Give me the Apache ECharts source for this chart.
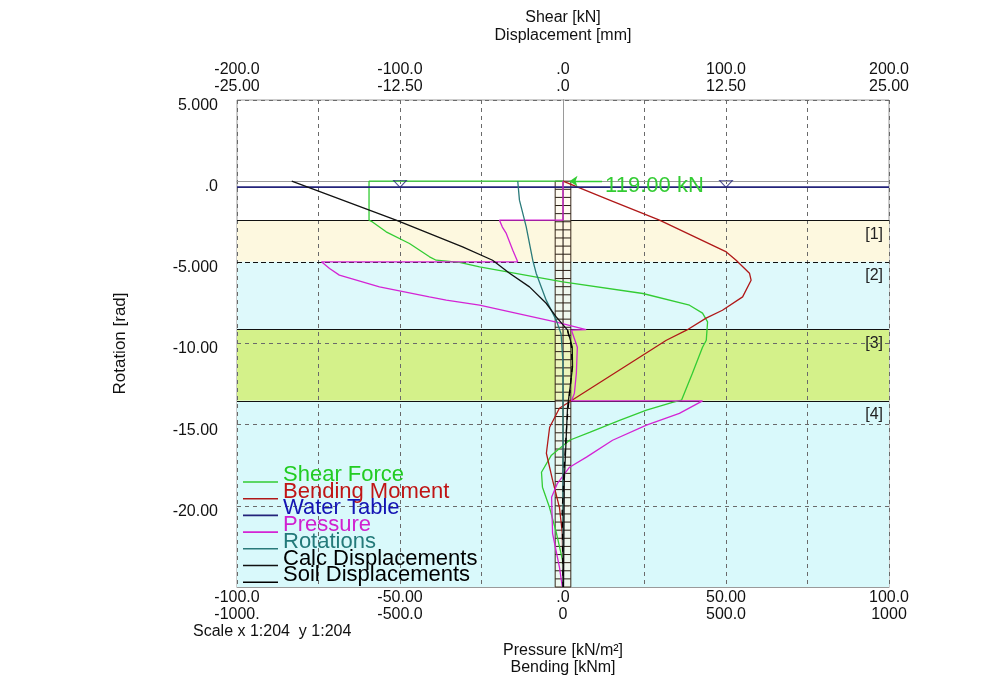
<!DOCTYPE html>
<html>
<head>
<meta charset="utf-8">
<script src="https://cdn.jsdelivr.net/npm/echarts@6/dist/echarts.min.js"></script>
<style>
html, body { margin: 0; padding: 0; background: #fff; }
#chart { width: 1000px; height: 685px; }
</style>
</head>
<body>
<div id="chart"></div>
<script>
// tick labels, as printed by the program
var shearTicks = ['-200.0', '-100.0', '.0', '100.0', '200.0'];
var dispTicks = ['-25.00', '-12.50', '.0', '12.50', '25.00'];
var pressTicks = ['-100.0', '-50.00', '.0', '50.00', '100.0'];
var bendTicks = ['-1000.', '-500.0', '0', '500.0', '1000'];
var levelTicks = ['5.000', '.0', '-5.000', '-10.00', '-15.00', '-20.00'];

// soil layers (level in m)
var layerNames = ['[1]', '[2]', '[3]', '[4]'];
var layerTop = [-2.4, -4.97, -9.14, -13.53];
var layerBottom = [-4.97, -9.14, -13.53, -25];
var layerColors = ['#fdf8df', '#def9fb', '#d4f18a', '#d9f9fb'];

// wall
var wallTop = 0;
var wallBottom = -25;
var wallHalf = 2.4;     // kN/m2 axis units
var wallStep = 0.5;

// water table
var waterLevel = -0.37;
var waterMarks = [-100, 100];

// shear force [kN]
var shearLevel = [0, 0, -2.4, -2.51, -3.12, -3.84, -4.66, -4.87, -4.97, -5.0, -5.28, -6.2, -6.92, -7.64, -8.13, -8.67, -9.8, -10.23, -11.83, -13.49, -13.62, -14.11, -14.73, -15.47, -15.96, -16.88, -17.93, -18.85, -20.09, -21.69, -23.35, -25];
var shearValue = [0, -119, -119, -116.9, -108.5, -94.2, -81.9, -77.8, -77.6, -63.5, -51.2, -0.1, 49, 77.6, 85.6, 88.7, 87.9, 85.6, 79.4, 72.7, 67.2, 51.2, 34.7, 16.3, 4, -7.1, -13.2, -12.6, -8.3, -4, -0.3, 0];
var anchorForce = 119;

// bending moment [kNm]
var bendLevel = [0, -1.17, -2.4, -4.36, -4.87, -5.67, -6.1, -7.13, -7.95, -8.44, -9.18, -9.8, -13.53, -13.99, -15.16, -16.76, -18.42, -20.09, -21.69, -25];
var bendValue = [0, 143, 296, 501, 531, 572, 577, 551, 489, 439, 379, 317, 25, -11, -41, -51, -32, -11, -2, 0];

// pressure [kN/m2]
var pressLevel = [0, -2.4, -2.4, -2.83, -3.22, -4.25, -4.97, -4.97, -5.38, -5.79, -6.51, -7.13, -7.33, -7.64, -8.69, -9.14, -9.18, -10.23, -11.83, -13.06, -13.53, -13.53, -14.3, -15.03, -15.96, -17.0, -17.62, -18.61, -19.47, -21.69, -23.78, -25];
var pressValue = [0, 0, -19.5, -18.6, -17.4, -15.4, -13.9, -74.1, -71.6, -68.6, -56.3, -41, -35.8, -25.6, -2, 7.1, 2.6, 4.4, 4.1, 3.5, 2.6, 42.8, 35.7, 25.6, 15.2, 7.2, 2.0, -1.7, -3.5, -3.2, -1.1, -0.2];

// rotations (drawn on the displacement scale)
var rotLevel = [0, -1.17, -2.82, -4.87, -5.67, -7.33, -8.56, -9.4, -11.2, -25];
var rotValue = [-3.47, -3.34, -2.82, -2.32, -2.06, -1.29, -0.52, -0.15, 0, 0];

// displacements [mm]
var calcLevel = [0, -2.4, -4.05, -4.87, -5.67, -6.51, -7.52, -8.36, -9.18, -10.21, -11.44, -12.67, -13.91, -15.34, -18.42, -25];
var calcValue = [-20.8, -12.8, -7.7, -5.4, -4.1, -2.57, -1.29, -0.52, 0.35, 0.71, 0.73, 0.55, 0.35, 0.27, 0.1, 0.04];
var soilLevel = [-9.2, -10.2, -11.5, -12.7, -14.8, -17.5, -20.3, -25];
var soilValue = [0.35, 0.65, 0.7, 0.55, 0.3, 0.1, -0.06, 0];

function pairs(xs, ys) {
    return xs.map(function (x, i) { return [x, ys[i]]; });
}
function tickFmt(list, min, step) {
    return function (v) {
        var r = (v - min) / step;
        var i = Math.round(r);
        if (Math.abs(r - i) > 1e-6) return '';
        return list[i] !== undefined ? list[i] : '';
    };
}

var FONT = 'Liberation Sans';
var TXT = '#111';
var gridDash = { type: [4, 4], color: '#6a6a6a', width: 1 };
// legend line sample sitting a little below its text
var legendIcon = 'path://M0,0h0.05v0.05h-0.05Z M0,14h35v1.6h-35Z';

var series = [];

// layers as bands
series.push({
    name: 'layers',
    type: 'line',
    xAxisIndex: 2,
    yAxisIndex: 0,
    data: [],
    silent: true,
    markArea: {
        silent: true,
        z: 1,
        label: { show: true, position: 'insideTopRight', color: '#222', fontSize: 16, fontFamily: FONT, distance: 6 },
        data: layerTop.map(function (t, i) {
            return [{ name: layerNames[i], yAxis: t, itemStyle: { color: layerColors[i] } }, { yAxis: layerBottom[i] }];
        })
    },
    markLine: {
        silent: true,
        z: 2,
        symbol: 'none',
        label: { show: false },
        data: layerTop.map(function (t, i) {
            return { yAxis: t, lineStyle: { color: '#111', width: 1, type: i === 1 ? [5, 3] : 'solid' } };
        })
    }
});

// wall
series.push({
    name: 'wall',
    type: 'custom',
    xAxisIndex: 2,
    yAxisIndex: 0,
    z: 3,
    silent: true,
    encode: { x: [0, 2], y: [1, 3] },
    data: [[-wallHalf, wallTop, wallHalf, wallBottom]],
    renderItem: function (params, api) {
        var tl = api.coord([api.value(0), api.value(1)]);
        var br = api.coord([api.value(2), api.value(3)]);
        var mid = api.coord([0, 0]);
        var kids = [{
            type: 'rect',
            shape: { x: tl[0], y: tl[1], width: br[0] - tl[0], height: br[1] - tl[1] },
            style: { fill: 'rgba(255,247,230,0.55)', stroke: '#3b2a1c', lineWidth: 1 }
        }];
        for (var lv = wallTop - wallStep; lv > wallBottom + 1e-6; lv -= wallStep) {
            var p = api.coord([0, lv]);
            kids.push({ type: 'line', shape: { x1: tl[0], y1: p[1], x2: br[0], y2: p[1] }, style: { stroke: '#2a1e14', lineWidth: 1 } });
        }
        kids.push({ type: 'line', shape: { x1: mid[0], y1: tl[1], x2: mid[0], y2: br[1] }, style: { stroke: '#2a1e14', lineWidth: 1 } });
        return { type: 'group', children: kids };
    }
});

function curve(name, xi, xs, ys, color, extra) {
    var s = {
        name: name,
        type: 'line',
        xAxisIndex: xi,
        yAxisIndex: 0,
        z: 4,
        symbol: 'none',
        smooth: false,
        lineStyle: { color: color, width: 1.3 },
        itemStyle: { color: color },
        data: pairs(xs, ys)
    };
    if (extra) for (var k in extra) s[k] = extra[k];
    return s;
}

series.push(curve('Shear Force', 0, shearValue, shearLevel, '#33cc33', {
    markLine: {
        silent: true,
        symbol: ['none', 'arrow'],
        symbolSize: 8,
        lineStyle: { color: '#33cc33', width: 1.3, type: 'solid' },
        label: {
            show: true, position: 'start', distance: 3, offset: [0, 5],
            formatter: anchorForce.toFixed(2) + ' kN',
            color: '#33cc33', fontSize: 22, fontFamily: FONT
        },
        data: [[{ coord: [24, 0] }, { coord: [4, 0] }]]
    }
}));
series.push(curve('Bending Moment', 3, bendValue, bendLevel, '#b01818'));
series.push(curve('Water Table', 0, [-200, 200], [waterLevel, waterLevel], '#23237a', { lineStyle: { color: '#23237a', width: 1.6 } }));
series.push({
    name: 'wt-mark',
    type: 'scatter',
    xAxisIndex: 0,
    yAxisIndex: 0,
    z: 4,
    silent: true,
    symbol: 'triangle',
    symbolRotate: 180,
    symbolSize: [13, 7],
    itemStyle: { color: 'rgba(0,0,0,0)', borderColor: '#23237a', borderWidth: 1 },
    data: waterMarks.map(function (x) { return [x, waterLevel + 0.2]; })
});
series.push(curve('Pressure', 2, pressValue, pressLevel, '#d424d4'));
series.push(curve('Rotations', 1, rotValue, rotLevel, '#2a7a7a'));
series.push(curve('Calc Displacements', 1, calcValue, calcLevel, '#111111'));
series.push(curve('Soil Displacements', 1, soilValue, soilLevel, '#000000', { lineStyle: { color: '#000', width: 1.3, type: [6, 6] } }));

var legendColors = {
    'Shear Force': '#22cc22',
    'Bending Moment': '#c01515',
    'Water Table': '#1414b4',
    'Pressure': '#d020d0',
    'Rotations': '#237a7a',
    'Calc Displacements': '#000',
    'Soil Displacements': '#000'
};

var option = {
    animation: false,
    backgroundColor: '#fff',
    textStyle: { fontFamily: FONT },
    grid: {
        left: 237, right: 111, top: 100, bottom: 98,
        show: true, backgroundColor: '#fff', borderColor: '#9a9a9a', borderWidth: 1
    },
    legend: {
        orient: 'vertical',
        left: 243,
        top: 464,
        padding: 0,
        icon: legendIcon,
        itemWidth: 35,
        itemHeight: 15.6,
        itemGap: -5.3,
        selectedMode: false,
        textStyle: { fontSize: 22, fontFamily: FONT, lineHeight: 17 },
        data: Object.keys(legendColors).map(function (n) {
            return { name: n, textStyle: { color: legendColors[n] } };
        })
    },
    xAxis: [{
        type: 'value', position: 'top', min: -200, max: 200, interval: 100, z: 2,
        axisLine: { show: true, lineStyle: { color: '#9a9a9a' } },
        axisTick: { show: false }, splitLine: { show: false },
        axisLabel: { margin: 22, fontSize: 16, color: TXT, formatter: tickFmt(shearTicks, -200, 100) },
        name: 'Shear [kN]\nDisplacement [mm]', nameLocation: 'middle', nameGap: 55,
        nameTextStyle: { fontSize: 16, lineHeight: 18, color: TXT }
    }, {
        type: 'value', position: 'top', min: -25, max: 25, interval: 12.5, z: 2,
        axisLine: { show: false }, axisTick: { show: false }, splitLine: { show: false },
        axisLabel: { margin: 5, fontSize: 16, color: TXT, formatter: tickFmt(dispTicks, -25, 12.5) }
    }, {
        type: 'value', position: 'bottom', min: -100, max: 100, interval: 25, z: 2,
        axisLine: { show: true, lineStyle: { color: '#9a9a9a' } },
        axisTick: { show: false },
        splitLine: { show: true, lineStyle: gridDash },
        axisLabel: { margin: 3, fontSize: 16, color: TXT, formatter: tickFmt(pressTicks, -100, 50) },
        name: 'Pressure [kN/m\u00b2]\nBending [kNm]', nameLocation: 'middle', nameGap: 55,
        nameTextStyle: { fontSize: 16, lineHeight: 17, color: TXT }
    }, {
        type: 'value', position: 'bottom', min: -1000, max: 1000, interval: 500, z: 2,
        axisLine: { show: false }, axisTick: { show: false }, splitLine: { show: false },
        axisLabel: { margin: 20, fontSize: 16, color: TXT, formatter: tickFmt(bendTicks, -1000, 500) }
    }],
    yAxis: [{
        type: 'value', min: -25, max: 5, interval: 5, z: 2,
        axisLine: { show: true, lineStyle: { color: '#9a9a9a' } },
        axisTick: { show: false },
        splitLine: { show: true, lineStyle: gridDash },
        axisLabel: { margin: 19, fontSize: 16, color: TXT, verticalAlign: 'top', lineHeight: 11, formatter: tickFmt(levelTicks, 5, -5) },
        name: 'Rotation [rad]', nameLocation: 'middle', nameGap: 108,
        nameTextStyle: { fontSize: 17, color: TXT }
    }, {
        type: 'value', position: 'right', min: -25, max: 5, z: 2,
        axisLine: { show: true, lineStyle: { color: '#9a9a9a' } },
        axisTick: { show: false }, axisLabel: { show: false }, splitLine: { show: false }
    }],
    graphic: [{
        type: 'text', left: 193, top: 624,
        style: { text: 'Scale x 1:204  y 1:204', fontSize: 16, fontFamily: FONT, fill: TXT }
    }],
    series: series
};

var chart = echarts.init(document.getElementById('chart'));
chart.setOption(option);
</script>
</body>
</html>
